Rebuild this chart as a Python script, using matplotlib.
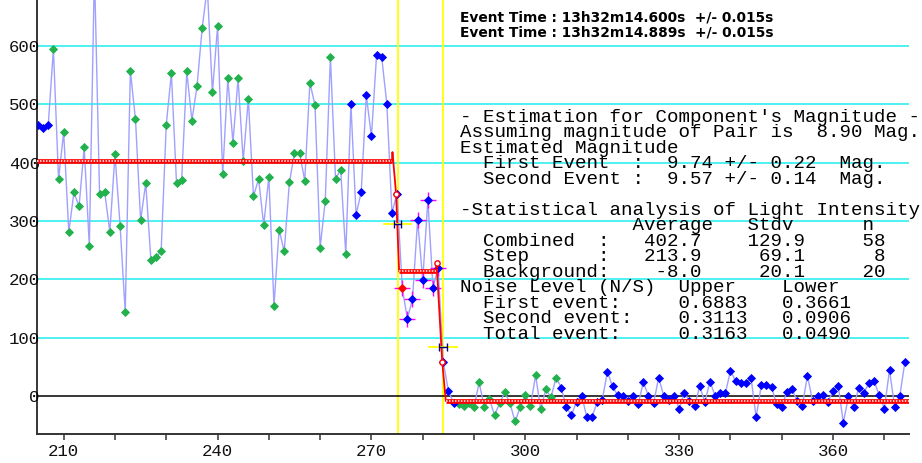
import numpy as np
import matplotlib
matplotlib.use("Agg")
import matplotlib.pyplot as plt
from matplotlib.ticker import FixedLocator

# ---------------- light curve (one value per video frame) ----------------
FIRST_FRAME = 205
intensity = [
    465, 460, 465,                                              # 205-207
    594, 372, 452, 281, 349, 325, 426, 258, 730, 346,           # 208-217
    349, 281, 414, 292, 144, 557, 474, 301, 365, 234,           # 218-227
    238, 248, 465, 553, 365, 370, 556, 472, 531, 630,           # 228-237
    700, 520, 633, 380, 544, 434, 544, 403, 509, 342,           # 238-247
    372, 293, 376, 155, 285, 248, 366, 416, 416, 369,           # 248-257
    537, 498, 254, 335, 581, 372, 388, 243,                     # 258-265
    500, 311, 349, 515, 445, 584, 580, 501, 314, 347,           # 266-275
    186, 133, 166, 302, 199, 336, 186, 220,                     # 276-283
    59, 9, -11,                                                 # 284-286
    -14, -16, -12, -19, 24, -19, -5, -32, -12, 7,               # 287-296
    -12, -43, -19, 3, -17, 36, -22, 12, -2, 32,                 # 297-306
    15, -19, -32, -9, 1, -36, -36, -10, -6, 42,                 # 307-316
    17, 2, 1, -8, 0, -14, 24, 1, -12, 32,                       # 317-326
    0, -7, 0, -21, 6, -8, -16, 17, -10, 25,                     # 327-336
    1, 6, 5, 44, 26, 23, 23, 32, -36, 19,                       # 337-346
    19, 16, -14, -18, 8, 12, -8, -16, 35, -8,                   # 347-356
    0, 2, -9, 9, 18, -45, 0, -19, 15, 6,                        # 357-366
    23, 26, 2, -21, 45, -18, 0, 59,                             # 367-374
]
green_ranges = [(208, 265), (287, 306)]     # frames plotted in green
step_range = (276, 283)                     # frames inside the step (error crosses)
red_frame = 276

# ---------------- fitted step model ----------------
level_combined = 402.7
level_step = 213.9
level_background = -8.0
event_frames = [275.1, 283.9]
event_marker_y = [295, 85]
event_halfwidth = 2.9
event_timing_err = 0.75
model_x = [204.8, 274.0, 274.1, 274.8, 275.4, 282.6, 282.7, 283.8, 284.5, 374.8]
model_y = [level_combined, level_combined, 418, 347, level_step, level_step,
           229, 59, level_background, level_background]
model_samples_x = [274.8, 282.7, 283.8]
model_samples_y = [347, 229, 59]
plateaus = [(204.8, 274.0, level_combined),
            (275.4, 282.6, level_step),
            (284.5, 374.8, level_background)]

# ---------------- axis ----------------
x_ticks = list(range(210, 371, 10))
x_labels = [str(t) if t % 30 == 0 else "" for t in x_ticks]
y_ticks = [0, 100, 200, 300, 400, 500, 600]

# ---------------- text block ----------------
event_lines = ["Event Time : 13h32m14.600s  +/- 0.015s",
               "Event Time : 13h32m14.889s  +/- 0.015s"]
report_lines = [
    "- Estimation for Component's Magnitude -",
    "Assuming magnitude of Pair is  8.90 Mag.",
    "Estimated Magnitude",
    "  First Event  :  9.74 +/- 0.22  Mag.",
    "  Second Event :  9.57 +/- 0.14  Mag.",
    "",
    "-Statistical analysis of Light Intensity",
    "               Average   Stdv      n",
    "  Combined  :   402.7    129.9     58",
    "  Step      :   213.9     69.1      8",
    "  Background:    -8.0     20.1     20",
    "Noise Level (N/S)  Upper    Lower",
    "  First event:     0.6883   0.3661",
    "  Second event:    0.3113   0.0906",
    "  Total event:     0.3163   0.0490",
]

W, H = 922, 463
fig = plt.figure(figsize=(W / 100, H / 100), dpi=100)
ax = fig.add_axes([37 / W, 29 / H, (909 - 37) / W, 434 / H])
ax.set_xlim(204.8, 374.8)
ax.set_ylim(-64.5, 678.3)

CYAN = "#40f0f0"
GREEN = "#22b14c"
BLUE = "#0000ff"
LINE = "#a0a0ff"

for v in y_ticks[1:]:
    ax.axhline(v, color=CYAN, lw=1.3, zorder=1)
ax.axhline(0, color="black", lw=1.1, zorder=2)

for ef in event_frames:
    ax.axvline(ef, color="#ffff00", lw=1.3, zorder=1.5)

frames = np.arange(FIRST_FRAME, FIRST_FRAME + len(intensity))
vals = np.array(intensity, dtype=float)
ax.plot(frames, vals, color=LINE, lw=1.0, zorder=3)

is_green = np.zeros(len(frames), bool)
for a, b in green_ranges:
    is_green |= (frames >= a) & (frames <= b)
is_step = (frames >= step_range[0]) & (frames <= step_range[1])
is_red = frames == red_frame
is_blue = ~is_green & ~is_red

ax.plot(frames[is_step], vals[is_step], "+", color="#ff00ff", ms=12, mew=1.0, zorder=4)

# step model: plateaus drawn as a chain of small rings, transitions as a thin line
for x0, x1, lev in plateaus:
    ax.plot([x0, x1], [lev, lev], color="red", lw=3.4, solid_capstyle="butt", zorder=5.5)
    ax.plot([x0, x1], [lev, lev], color="white", lw=1.1, dashes=(1.0, 0.95),
            dash_capstyle="butt", zorder=5.6)
ax.plot(model_x, model_y, color="red", lw=1.3, zorder=5.4)

ax.plot(frames[is_green], vals[is_green], "D", color=GREEN, ms=4.5, mew=0.6, zorder=5)
ax.plot(frames[is_blue], vals[is_blue], "D", color=BLUE, ms=4.5, mew=0.6, zorder=5)
ax.plot(frames[is_red], vals[is_red], "D", color="red", ms=4.5, mew=0.6, zorder=5)

ax.plot(model_samples_x, model_samples_y, "o", ms=3.8, mfc="white", mec="red",
        mew=1.0, zorder=5.7)

ax.errorbar(event_frames, event_marker_y, xerr=event_halfwidth, fmt="none",
            ecolor="#ffff00", elinewidth=1.3, zorder=5.8)
ax.errorbar(event_frames, event_marker_y, xerr=event_timing_err, fmt="none",
            ecolor="#000080", elinewidth=1.0, capsize=2.8, capthick=1.0, zorder=5.9)

for side in ("top", "right"):
    ax.spines[side].set_visible(False)
ax.spines["left"].set_color("black")
ax.spines["left"].set_linewidth(1.1)
ax.spines["bottom"].set_color("#333333")
ax.spines["bottom"].set_linewidth(1.4)

mono = "Liberation Mono"
ax.xaxis.set_major_locator(FixedLocator(x_ticks))
ax.set_xticklabels(x_labels)
ax.tick_params(axis="x", direction="out", length=4.5, width=1.1, color="#333333",
               pad=3, labelsize=12.5)
ax.set_yticks(y_ticks)
ax.tick_params(axis="y", length=0, pad=-2, labelsize=12.5)
for lab in ax.get_xticklabels() + ax.get_yticklabels():
    lab.set_fontfamily(mono)
    lab.set_color("#111111")


def fx(px):
    return px / W


def fy(py):
    return 1 - py / H


for i, s in enumerate(event_lines):
    fig.text(fx(460), fy(21.5 + 15 * i), s, family="DejaVu Sans",
             weight="bold", size=9.95, va="baseline", ha="left", color="black")

for i, s in enumerate(report_lines):
    if s:
        fig.text(fx(460), fy(121.7 + 15.52 * i), s, family=mono, size=13.75,
                 va="baseline", ha="left", color="black")

fig.savefig("out.png", dpi=100)
